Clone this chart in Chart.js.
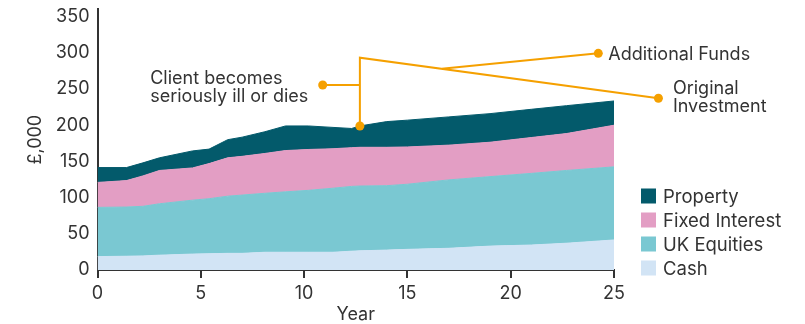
<!DOCTYPE html>
<html>
<head>
<meta charset="utf-8">
<script src="https://cdn.jsdelivr.net/npm/chart.js@4.4.1/dist/chart.umd.min.js"></script>
<style>
  html, body { margin: 0; padding: 0; background: #ffffff; }
  #wrap { width: 805px; height: 324px; }
</style>
</head>
<body>
<div id="wrap"><canvas id="chart" width="805" height="324"></canvas></div>
<script>
// Portfolio value by asset class (£,000), stacked
const years         = [0, 1.4, 2.2, 3.0, 4.6, 5.4, 6.3, 7.0, 8.1, 9.1, 10.2, 11.4, 12.3, 12.7, 14.0, 15.0, 17.0, 19.0, 21.0, 22.7, 25];
const cash          = [18.5, 19, 19.5, 20.5, 22, 22.5, 23, 23, 24.5, 24.5, 24.5, 24.5, 26, 26.5, 27.5, 28.5, 30, 33, 34.5, 37, 41.5];
const ukEquities    = [68, 68, 68.5, 71, 74.5, 76, 79, 80.5, 81.5, 83.5, 85.5, 88.5, 89.5, 89.5, 89, 90, 94.5, 96, 99, 100.5, 101];
const fixedInterest = [34.5, 36.5, 42, 46, 44.5, 48.5, 53, 53.5, 55, 57, 56.5, 54.5, 53.5, 53.5, 53, 51.5, 48, 47.5, 49.5, 51, 57.5];
const property      = [20.5, 18, 18, 17.5, 23.5, 20, 25, 26.5, 30, 34, 32.5, 29.5, 26.5, 29.5, 35.5, 37, 39, 39.5, 39, 38.5, 33.5];

const seriesNames  = ['Cash', 'UK Equities', 'Fixed Interest', 'Property'];
const seriesColors = ['#d2e4f5', '#7ac8d2', '#e39ec4', '#035a6b'];

const xTicks = [0, 5, 10, 15, 20, 25];
const yTicks = [0, 50, 100, 150, 200, 250, 300, 350];

// Callout anchor points, in (year, £,000)
const eventYear        = 12.7;
const clientDot        = [10.9, 255.6];
const calloutCorner    = [12.7, 293.3];
const additionalDot    = [24.24, 299.3];
const originalDot      = [27.15, 237.2];
const additionalJoinX  = 16.66;
const clientTextX      = 2.55;

const ORANGE = '#f5a000';
const INK = '#333333';
const FONT = 'Inter, Roboto, sans-serif';

Chart.defaults.font.family = FONT;
Chart.defaults.font.size = 18;
Chart.defaults.color = INK;

const allSeries = [cash, ukEquities, fixedInterest, property];
const datasets = allSeries.map((vals, i) => ({
  label: seriesNames[i],
  data: years.map((yr, j) => ({ x: yr, y: vals[j] })),
  backgroundColor: seriesColors[i],
  borderColor: seriesColors[i],
  borderWidth: 1,
  pointRadius: 0,
  pointHoverRadius: 0,
  tension: 0,
  fill: i === 0 ? 'origin' : '-1'
}));

// Legend block to the right of the plot, top series first
const legendBlock = {
  id: 'legendBlock',
  afterDraw(chart) {
    const ctx = chart.ctx;
    const area = chart.chartArea;
    const boxX = area.right + 27;
    const rowGap = 24;
    const lastRowY = area.bottom - 2;
    ctx.save();
    ctx.font = '18.5px ' + FONT;
    ctx.textBaseline = 'middle';
    ctx.textAlign = 'left';
    const order = [3, 2, 1, 0];
    order.forEach((di, k) => {
      const ds = chart.data.datasets[di];
      const cy = lastRowY - (order.length - 1 - k) * rowGap;
      ctx.fillStyle = ds.backgroundColor;
      ctx.fillRect(boxX, cy - 7.5, 15, 15);
      ctx.fillStyle = INK;
      ctx.fillText(ds.label, boxX + 22, cy + 1);
    });
    ctx.restore();
  }
};

// Orange callout connectors and their labels
const callouts = {
  id: 'callouts',
  afterDatasetsDraw(chart) {
    const { ctx, scales: { x, y } } = chart;
    const P = p => [x.getPixelForValue(p[0]), y.getPixelForValue(p[1])];
    const idx = years.indexOf(eventYear);
    const total = allSeries.reduce((s, arr) => s + arr[idx], 0);
    const event = P([eventYear, total]);
    const corner = P(calloutCorner);
    const client = P(clientDot);
    const addl = P(additionalDot);
    const orig = P(originalDot);
    const t = (additionalJoinX - calloutCorner[0]) / (originalDot[0] - calloutCorner[0]);
    const join = P([additionalJoinX, calloutCorner[1] + t * (originalDot[1] - calloutCorner[1])]);

    ctx.save();
    ctx.strokeStyle = ORANGE;
    ctx.fillStyle = ORANGE;
    ctx.lineWidth = 2;
    ctx.beginPath();
    ctx.moveTo(client[0], client[1]);
    ctx.lineTo(corner[0], client[1]);
    ctx.moveTo(event[0], event[1]);
    ctx.lineTo(corner[0], corner[1]);
    ctx.lineTo(orig[0], orig[1]);
    ctx.moveTo(join[0], join[1]);
    ctx.lineTo(addl[0], addl[1]);
    ctx.stroke();
    [client, event, addl, orig].forEach(p => {
      ctx.beginPath();
      ctx.arc(p[0], p[1], 4.5, 0, Math.PI * 2);
      ctx.fill();
    });

    ctx.fillStyle = INK;
    ctx.font = '18px ' + FONT;
    ctx.textBaseline = 'middle';
    ctx.textAlign = 'left';
    const cx = x.getPixelForValue(clientTextX);
    ctx.fillText('Client becomes', cx, client[1] - 6);
    ctx.fillText('seriously ill or dies', cx, client[1] + 11.5);
    ctx.fillText('Additional Funds', addl[0] + 10, addl[1] + 1);
    ctx.fillText('Original', orig[0] + 14.5, orig[1] - 10);
    ctx.fillText('Investment', orig[0] + 14.5, orig[1] + 8.5);
    ctx.restore();
  }
};

new Chart(document.getElementById('chart'), {
  type: 'line',
  data: { datasets },
  plugins: [callouts, legendBlock],
  options: {
    responsive: false,
    animation: false,
    events: [],
    layout: { padding: { top: 9.4, right: 191, bottom: 0, left: 0 } },
    plugins: {
      legend: { display: false },
      tooltip: { enabled: false }
    },
    scales: {
      x: {
        type: 'linear',
        min: 0,
        max: 25,
        afterBuildTicks: s => { s.ticks = xTicks.map(v => ({ value: v })); },
        afterFit: s => { s.height = 54; },
        ticks: { padding: 5, color: INK, font: { size: 18 } },
        grid: { display: true, drawOnChartArea: false, drawTicks: true, tickLength: 8, color: INK, lineWidth: 2 },
        border: { display: true, color: INK, width: 2 },
        title: { display: true, text: 'Year', color: INK, font: { size: 18, lineHeight: 1 }, padding: 0 }
      },
      y: {
        stacked: true,
        min: 0,
        max: 360,
        afterBuildTicks: s => { s.ticks = yTicks.map(v => ({ value: v })); },
        afterFit: s => { s.width = 97.5; s.paddingTop = 0; s.paddingBottom = 0; },
        ticks: { padding: 8, color: INK, font: { size: 18 } },
        grid: { display: false, drawTicks: false },
        border: { display: true, color: INK, width: 2 },
        title: { display: true, text: '£,000', color: INK, font: { size: 18 }, padding: { top: 24.5, bottom: 0 } }
      }
    }
  }
});
</script>
</body>
</html>
